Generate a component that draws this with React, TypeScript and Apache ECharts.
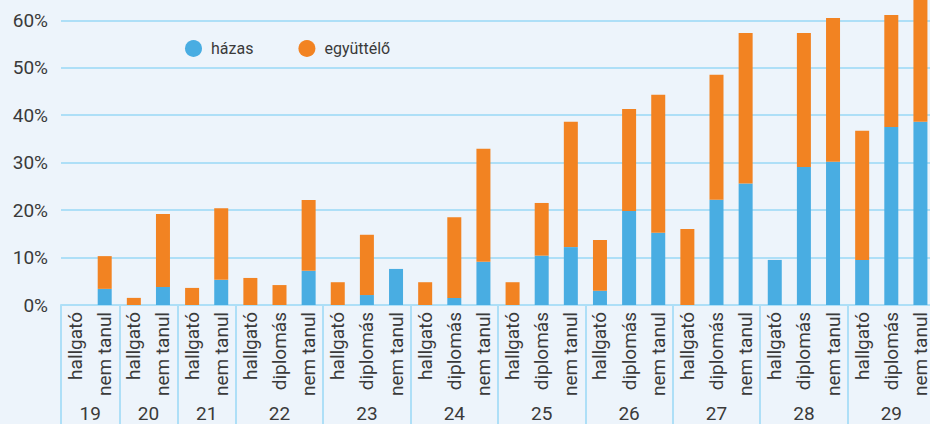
import React, { useEffect, useRef } from "react";
import * as echarts from "echarts";

const ages = ["19", "20", "21", "22", "23", "24", "25", "26", "27", "28", "29"];
const groupCats: string[][] = [
  ["hallgató", "nem tanul"],
  ["hallgató", "nem tanul"],
  ["hallgató", "nem tanul"],
  ["hallgató", "diplomás", "nem tanul"],
  ["hallgató", "diplomás", "nem tanul"],
  ["hallgató", "diplomás", "nem tanul"],
  ["hallgató", "diplomás", "nem tanul"],
  ["hallgató", "diplomás", "nem tanul"],
  ["hallgató", "diplomás", "nem tanul"],
  ["hallgató", "diplomás", "nem tanul"],
  ["hallgató", "diplomás", "nem tanul"],
];

// házas (married), percent
const hazas = [
  0, 3.4,
  0, 3.8,
  0, 5.3,
  0, 0, 7.2,
  0, 2.1, 7.6,
  0, 1.5, 9.1,
  0, 10.4, 12.2,
  3.0, 19.8, 15.2,
  0, 22.2, 25.6,
  9.5, 29.1, 30.2,
  9.5, 37.5, 38.6,
];

// együttélő (cohabiting), percent
const egyutt = [
  0, 6.9,
  1.5, 15.4,
  3.6, 15.1,
  5.7, 4.2, 14.9,
  4.8, 12.7, 0,
  4.8, 17.0, 23.8,
  4.8, 11.1, 26.4,
  10.7, 21.5, 29.1,
  16.0, 26.3, 31.7,
  0, 28.2, 30.3,
  27.2, 23.6, 26.4,
];

const yTicks = { min: 0, max: 70, interval: 10 };

const BLUE = "#49ADE2";
const ORANGE = "#F28322";
const GRID = "#AEDFF7";
const TEXT = "#3a3a3a";
const FONT = "Roboto";

export default function App() {
  const ref = useRef<HTMLDivElement>(null);
  useEffect(() => {
    if (!ref.current) return;
    const chart = echarts.init(ref.current, undefined, { renderer: "svg" });

    const categories = groupCats.flat();
    // secondary axis: half-band positions (boundaryGap false), 2*n+1 points
    const n = categories.length;
    const halfData: string[] = new Array(2 * n + 1).fill("");
    const boundaries = new Set<number>();
    const centers = new Set<number>();
    let pos = 0;
    groupCats.forEach((g, i) => {
      boundaries.add(pos * 2);
      const c = pos * 2 + g.length;
      centers.add(c);
      halfData[c] = ages[i];
      pos += g.length;
    });
    boundaries.add(pos * 2);

    chart.setOption({
      animation: false,
      backgroundColor: "#EDF4FB",
      textStyle: { fontFamily: FONT, color: TEXT },
      legend: {
        left: 180,
        top: 35,
        icon: "circle",
        itemWidth: 17,
        itemHeight: 17,
        itemGap: 45,
        textStyle: { fontSize: 16, color: TEXT, fontFamily: FONT, padding: [0, 0, 0, 4] },
        data: ["házas", "együttélő"],
      },
      grid: {
        left: 61,
        right: -5,
        top: -27.2,
        bottom: 119,
        containLabel: false,
        outerBoundsMode: "none",
      },
      xAxis: [
        {
          type: "category",
          data: categories,
          position: "bottom",
          axisLine: { show: true, lineStyle: { color: GRID, width: 2 } },
          axisTick: { show: false },
          axisLabel: {
            rotate: 90,
            interval: 0,
            margin: 7,
            fontSize: 19,
            lineHeight: 18,
            color: TEXT,
            fontFamily: FONT,
          },
        },
        {
          type: "category",
          data: halfData,
          position: "bottom",
          boundaryGap: false,
          axisLine: { show: false },
          axisTick: {
            show: true,
            length: 125,
            interval: (i: number) => boundaries.has(i),
            lineStyle: { color: GRID, width: 2 },
          },
          axisLabel: {
            interval: (i: number) => centers.has(i),
            margin: 99,
            fontSize: 19,
            color: TEXT,
            fontFamily: FONT,
          },
        },
      ],
      yAxis: {
        type: "value",
        min: yTicks.min,
        max: yTicks.max,
        interval: yTicks.interval,
        axisLine: { show: false },
        axisTick: { show: false },
        splitLine: { lineStyle: { color: GRID, width: 2 } },
        axisLabel: {
          formatter: "{value}%",
          showMaxLabel: false,
          margin: 13,
          fontSize: 19,
          color: TEXT,
          fontFamily: FONT,
        },
      },
      series: [
        {
          name: "házas",
          type: "bar",
          stack: "a",
          barWidth: 14,
          itemStyle: { color: BLUE },
          data: hazas,
        },
        {
          name: "együttélő",
          type: "bar",
          stack: "a",
          barWidth: 14,
          itemStyle: { color: ORANGE },
          data: egyutt,
        },
      ],
    });
    return () => chart.dispose();
  }, []);
  return (
    <div
      ref={ref}
      style={{ position: "absolute", left: 0, top: 0, width: 930, height: 424 }}
    />
  );
}
